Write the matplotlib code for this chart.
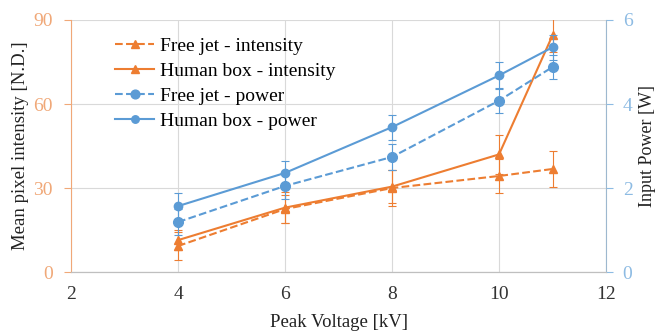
import matplotlib
matplotlib.use("Agg")
import matplotlib.pyplot as plt

plt.rcParams["font.family"] = ["Liberation Serif", "DejaVu Serif"]

voltage = [4, 6, 8, 10, 11]

free_jet_intensity = [9.3, 22.5, 30.0, 34.3, 36.8]
free_jet_intensity_err = [5.0, 5.0, 6.5, 6.0, 6.5]
human_box_intensity = [11.4, 23.0, 30.5, 42.0, 84.5]
human_box_intensity_err = [3.5, 5.5, 6.0, 7.0, 6.0]

free_jet_power = [1.19, 2.05, 2.74, 4.08, 4.88]
free_jet_power_err = [0.3, 0.3, 0.3, 0.3, 0.28]
human_box_power = [1.57, 2.36, 3.45, 4.68, 5.35]
human_box_power_err = [0.3, 0.28, 0.3, 0.32, 0.3]

labels = ["Free jet - intensity", "Human box - intensity", "Free jet - power", "Human box - power"]

orange = "#ED7D31"
blue = "#5B9BD5"
orange_tick = "#F0A878"
blue_tick = "#8DBBE3"
grid = "#D9D9D9"

fig = plt.figure(figsize=(6.6, 3.33), dpi=100)
ax = fig.add_axes([0.1076, 0.183, 0.8106, 0.757])
ax2 = ax.twinx()

err_kw = dict(elinewidth=0.8, capsize=3, capthick=0.8)

h1 = ax.errorbar(voltage, free_jet_intensity, yerr=free_jet_intensity_err, color=orange,
                 ls="--", marker="^", ms=6, lw=1.5, **err_kw)
h2 = ax.errorbar(voltage, human_box_intensity, yerr=human_box_intensity_err, color=orange,
                 ls="-", marker="^", ms=6, lw=1.5, **err_kw)
h3 = ax2.errorbar(voltage, free_jet_power, yerr=free_jet_power_err, color=blue,
                  ls="--", marker="o", ms=7, lw=1.5, **err_kw)
h4 = ax2.errorbar(voltage, human_box_power, yerr=human_box_power_err, color=blue,
                  ls="-", marker="o", ms=6, lw=1.5, **err_kw)

ax.set_xlim(2, 12)
ax.set_ylim(0, 90)
ax2.set_ylim(0, 6)
ax.set_xticks([2, 4, 6, 8, 10, 12])
ax.set_yticks([0, 30, 60, 90])
ax2.set_yticks([0, 2, 4, 6])

ax.grid(True, color=grid, lw=0.8)
ax.set_axisbelow(True)

for a in (ax, ax2):
    a.spines["top"].set_visible(False)
    a.spines["bottom"].set_color("#BFBFBF")
ax.spines["left"].set_color(orange_tick)
ax.spines["right"].set_visible(False)
ax2.spines["left"].set_visible(False)
ax2.spines["right"].set_color("#9DB8CF")

ax.tick_params(axis="y", colors=orange_tick, labelsize=14, length=5, pad=8)
ax2.tick_params(axis="y", colors=blue_tick, labelsize=14, length=5, pad=7)
ax.tick_params(axis="x", colors="#333333", labelsize=14, length=0, pad=10)

ax.set_xlabel("Peak Voltage [kV]", fontsize=13.5, color="#222222", labelpad=8)
ax.set_ylabel("Mean pixel intensity [N.D.]", fontsize=13.5, color="#222222", labelpad=3)
ax2.set_ylabel("Input Power [W]", fontsize=13, color="#222222", labelpad=5)

ax.legend([h[0] for h in (h1, h2, h3, h4)], labels,
          loc="upper left", bbox_to_anchor=(0.05, 1.0), frameon=False, fontsize=14,
          handlelength=2.0, handletextpad=0.3, labelspacing=0.38, markerscale=0.9)

fig.savefig("out.png", dpi=100)
